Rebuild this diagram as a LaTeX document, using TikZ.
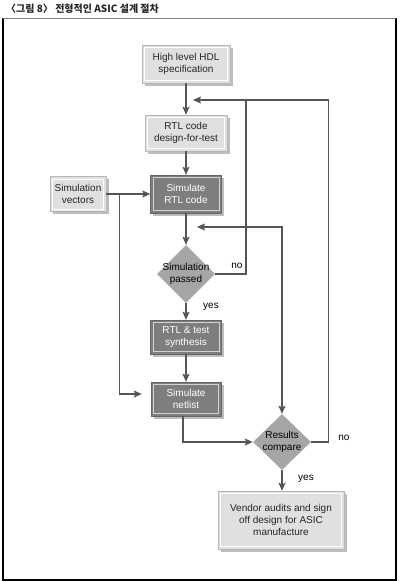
\documentclass[tikz,border=0pt]{standalone}
\usepackage{fontspec}
\setmainfont{Liberation Sans}
\newfontfamily\cjk{Noto Sans CJK KR}
\usetikzlibrary{arrows.meta,shapes.geometric,shadows,calc}
\definecolor{linegray}{HTML}{555555}
\definecolor{boxlight}{HTML}{E0E0E0}
\definecolor{boxdark}{HTML}{7E7E7E}
\definecolor{diagray}{HTML}{A6A6A6}
\definecolor{shadowgray}{HTML}{BDBDBD}

\begin{document}
\begin{tikzpicture}[x=1pt,y=-1pt,
    every node/.style={font=\fontsize{10}{12}\selectfont, align=center, inner sep=0pt},
    lightbox/.style={rectangle, fill=boxlight, draw=gray!55, text=black!85,
      drop shadow={shadow xshift=2.5pt, shadow yshift=-2.5pt, fill=shadowgray, opacity=1},
      path picture={\draw[white, line width=0.9pt]
        ([shift={(2.5pt,-2.5pt)}]path picture bounding box.north west) rectangle
        ([shift={(-2.5pt,2.5pt)}]path picture bounding box.south east);}},
    darkbox/.style={rectangle, fill=boxdark, draw=gray!80!black, text=white,
      drop shadow={shadow xshift=2.5pt, shadow yshift=-2.5pt, fill=shadowgray, opacity=1},
      path picture={\draw[gray!35, line width=0.9pt]
        ([shift={(2.5pt,-2.5pt)}]path picture bounding box.north west) rectangle
        ([shift={(-2.5pt,2.5pt)}]path picture bounding box.south east);}},
    decision/.style={diamond, fill=diagray, minimum width=58pt, minimum height=58pt},
    line/.style={draw=linegray, line width=1.1pt},
    arr/.style={line, -{Stealth[length=8pt, width=7pt, inset=1.5pt]}},
    arrboth/.style={line, {Stealth[length=8pt, width=7pt, inset=1.5pt]}-{Stealth[length=8pt, width=7pt, inset=1.5pt]}}]
    \useasboundingbox (0,0) rectangle (400,582);
    \draw[line width=1.6pt, black] (3,18) -- (3,580) -- (396,580) -- (396,18);
    \draw[line width=0.8pt, gray] (3,18) -- (396,18);
    \node[anchor=base west, font=\cjk\bfseries\fontsize{10}{12}\selectfont, text=black!85] (title) at (6,12) {〈그림 8〉 전형적인 ASIC 설계 절차};

    \node[lightbox, minimum width=88pt, minimum height=38pt] (hdl) at (186,64) {High level HDL\\specification};
    \node[lightbox, minimum width=82pt, minimum height=36pt] (rtl) at (186,133) {RTL code\\design-for-test};
    \node[darkbox, minimum width=71pt, minimum height=38pt] (simrtl) at (186,194) {Simulate\\RTL code};
    \node[lightbox, minimum width=56pt, minimum height=35pt] (vec) at (78,194) {Simulation\\vectors};
    \node[decision, label={center:{Simulation\\passed}}] (pass) at (186,274) {};
    \node[darkbox, minimum width=71pt, minimum height=34pt] (synth) at (186,337) {RTL \& test\\synthesis};
    \node[darkbox, minimum width=70pt, minimum height=34pt] (simnet) at (186,399) {Simulate\\netlist};
    \node[decision, minimum height=56pt, label={center:{Results\\compare}}] (cmp) at (282,442) {};
    \node[lightbox, minimum width=126pt, minimum height=58pt] (vend) at (281,520) {Vendor audits and sign\\off design for ASIC\\manufacture};

    \coordinate (tiprtl) at (193,100);
    \coordinate (tipsim) at (197,227);
    \coordinate (vsplit) at ($(vec.east)+(13,0)$);

    \draw[arr] (hdl.south) -- (hdl.south |- rtl.north);
    \draw[arr] (rtl.south) -- (rtl.south |- simrtl.north);
    \draw[arr] (vec.east) -- (simrtl.west);
    \draw[arr] (simrtl.south) -- (pass.north);
    \draw[arr] (pass.south) -- (synth.north);
    \draw[arr] (synth.south) -- (simnet.north);
    \draw[arr] (vsplit) |- ([xshift=-9pt, yshift=5pt]simnet.west);
    \draw[arr] ([xshift=-3pt]simnet.south) |- (cmp.west);
    \draw[arr] (cmp.south) -- (cmp.south |- vend.north);
    \draw[arr] (cmp.east) -- ++(17,0) |- (tiprtl);
    \draw[line] (pass.east) -| ($(tiprtl)+(53,0)$);
    \draw[arrboth] (tipsim) -| (cmp.north);

    \node (no1) at (237,266) {no};
    \node (yes1) at (211,307) {yes};
    \node (no2) at (344,438) {no};
    \node (yes2) at (306,479) {yes};
\end{tikzpicture}
\end{document}
